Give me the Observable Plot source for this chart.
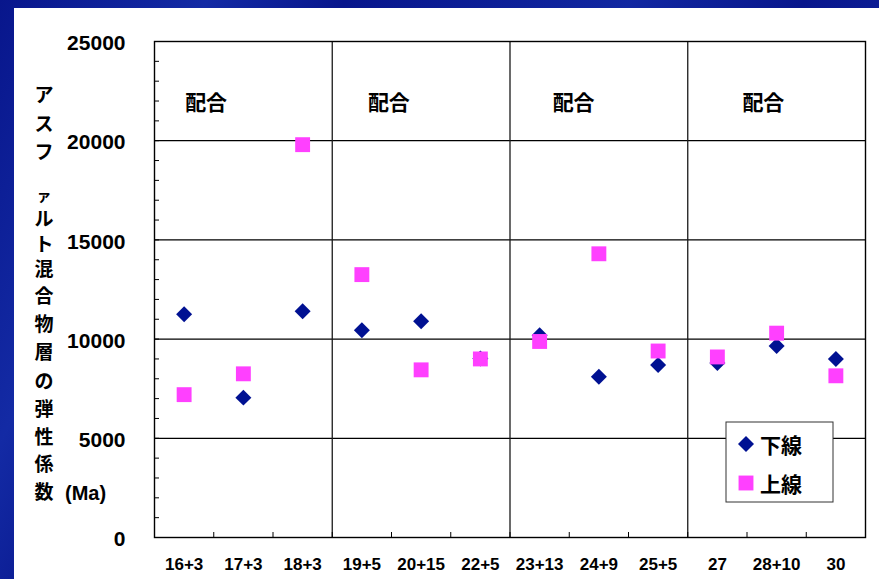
<!DOCTYPE html>
<html>
<head>
<meta charset="utf-8">
<script src="https://cdn.jsdelivr.net/npm/d3@7"></script>
<script src="https://cdn.jsdelivr.net/npm/@observablehq/plot@0.6"></script>
<style>
  html, body { margin: 0; padding: 0; }
  body {
    width: 879px; height: 579px; overflow: hidden; position: relative;
    background:
      linear-gradient(115deg, rgba(40,80,210,0) 0%, rgba(40,80,210,0.35) 18%, rgba(40,80,210,0) 30%,
                      rgba(40,80,210,0.3) 55%, rgba(40,80,210,0) 70%, rgba(40,80,210,0.4) 95%),
      #08168c;
  }
  #panel { position: absolute; left: 14px; top: 8px; width: 865px; height: 571px; background: #fff; }
  #panel svg { display: block; }
</style>
</head>
<body>
<div id="panel"></div>
<script>
// Mix designs (x axis) and elastic modulus of the asphalt layer for the two lines
const categories = ["16+3", "17+3", "18+3", "19+5", "20+15", "22+5", "23+13", "24+9", "25+5", "27", "28+10", "30"];
const lowerLine = [11250, 7050, 11400, 10450, 10900, 9020, 10200, 8100, 8700, 8800, 9650, 9000];
const upperLine = [7200, 8250, 19800, 13250, 8450, 9000, 9880, 14300, 9400, 9100, 10300, 8150];
const seriesNames = ["下線", "上線"];
const groupLabels = ["配合", "配合", "配合", "配合"];
const groupStarts = [0, 3, 6, 9];
const yTicks = [0, 5000, 10000, 15000, 20000, 25000];
const gridValues = [5000, 10000, 15000, 20000];
const minorTicks = d3.range(1000, 25000, 1000);
const yTitle = "アスファルト混合物層の弾性係数";
const yUnit = "(Ma)";

const W = 865, H = 571;
const mL = 140, mR = 14, mT = 33, mB = 42;
const frameW = W - mL - mR, frameH = H - mT - mB;

const NAVY = "#001192", PINK = "#ff40ff";
const DIAMOND_R = 7.2, SQUARE_R = 8.4;
const numFont = "'Liberation Sans', Arial, sans-serif";
const jpFont = "'Noto Sans CJK JP', 'Noto Sans', sans-serif";

const rows = categories.map((c, i) => ({i: i + 0.5, cat: c, lower: lowerLine[i], upper: upperLine[i]}));
const groups = groupLabels.map((t, k) => ({x: groupStarts[k] + 0.5, t}));
const groupDx = [22, 27, 34, 46];

const plot = Plot.plot({
  width: W, height: H,
  marginLeft: mL, marginRight: mR, marginTop: mT, marginBottom: mB,
  x: {domain: [0, categories.length]},
  y: {domain: [0, 25000]},
  style: {background: "white", fontFamily: numFont, color: "#000"},
  marks: [
    Plot.ruleY(gridValues, {stroke: "#000", strokeWidth: 1.3}),
    Plot.ruleX([3, 6, 9], {stroke: "#1a1a1a", strokeWidth: 1.3}),
    Plot.ruleY(minorTicks, {stroke: "#000", strokeWidth: 1, insetRight: frameW - 5}),
    Plot.ruleX(d3.range(1, categories.length), {stroke: "#000", strokeWidth: 1, insetTop: frameH - 5}),
    Plot.frame({stroke: "#000", strokeWidth: 1.4}),
    Plot.axisY(yTicks, {tickSize: 0, tickPadding: 29, fontSize: 21, fontWeight: "bold", label: null, dy: 2, tickFormat: d => String(d)}),
    Plot.axisX(rows.map(r => r.i), {tickSize: 0, tickPadding: 20, fontSize: 17, fontWeight: "bold", label: null,
      tickFormat: d => categories[Math.floor(d)]}),
    Plot.text(groups, {x: "x", y: 21900, text: "t", fontSize: 21, fontWeight: "bold",
      fontFamily: jpFont, textAnchor: "middle"}),
    Plot.dot(rows, {x: "i", y: "lower", symbol: "diamond2", r: DIAMOND_R, fill: NAVY, stroke: null}),
    Plot.dot(rows, {x: "i", y: "upper", symbol: "square", r: SQUARE_R, fill: PINK, stroke: null})
  ]
});

const svg = d3.select(plot);

// shift each 配合 label to its place inside the group
svg.selectAll("g[aria-label='text'] text").each(function(d, k) {
  const t = d3.select(this);
  const tr = t.attr("transform") || "";
  t.attr("transform", tr + ` translate(${groupDx[k]},0)`);
});

// vertical axis title: one text, one tspan per character (rows are page y of each glyph centre)
const titleRows = [93, 122, 150, 194, 217, 242, 267, 294, 322, 350, 379, 407, 435, 462, 490];
const title = svg.append("text").attr("font-family", jpFont).attr("font-weight", "bold")
  .attr("font-size", 19).attr("text-anchor", "middle").attr("dominant-baseline", "central");
Array.from(yTitle).forEach((ch, k) => {
  title.append("tspan").attr("x", 30).attr("y", titleRows[k] - 8)
    .attr("font-size", ch === "ァ" ? 15 : 19).text(ch);
});
svg.append("text").attr("x", 51).attr("y", 485).attr("dominant-baseline", "central")
  .attr("text-anchor", "start")
  .attr("font-family", numFont).attr("font-weight", "bold").attr("font-size", 20).text(yUnit);

// legend box
const lg = svg.append("g").attr("transform", "translate(712,414)");
lg.append("rect").attr("x", 0).attr("y", 0).attr("width", 107).attr("height", 80)
  .attr("fill", "#fff").attr("stroke", "#333").attr("stroke-width", 1);
const sym = [d3.symbol(d3.symbolDiamond2, Math.PI * DIAMOND_R * DIAMOND_R),
             d3.symbol(d3.symbolSquare, Math.PI * SQUARE_R * SQUARE_R)];
[NAVY, PINK].forEach((c, k) => {
  const cy = k === 0 ? 22 : 61;
  lg.append("path").attr("d", sym[k]()).attr("transform", `translate(20,${cy})`).attr("fill", c);
  lg.append("text").attr("x", 34).attr("y", cy).attr("dominant-baseline", "central")
    .attr("text-anchor", "start")
    .attr("font-family", jpFont).attr("font-weight", "bold").attr("font-size", 21).text(seriesNames[k]);
});

document.getElementById("panel").appendChild(plot);
</script>
</body>
</html>
